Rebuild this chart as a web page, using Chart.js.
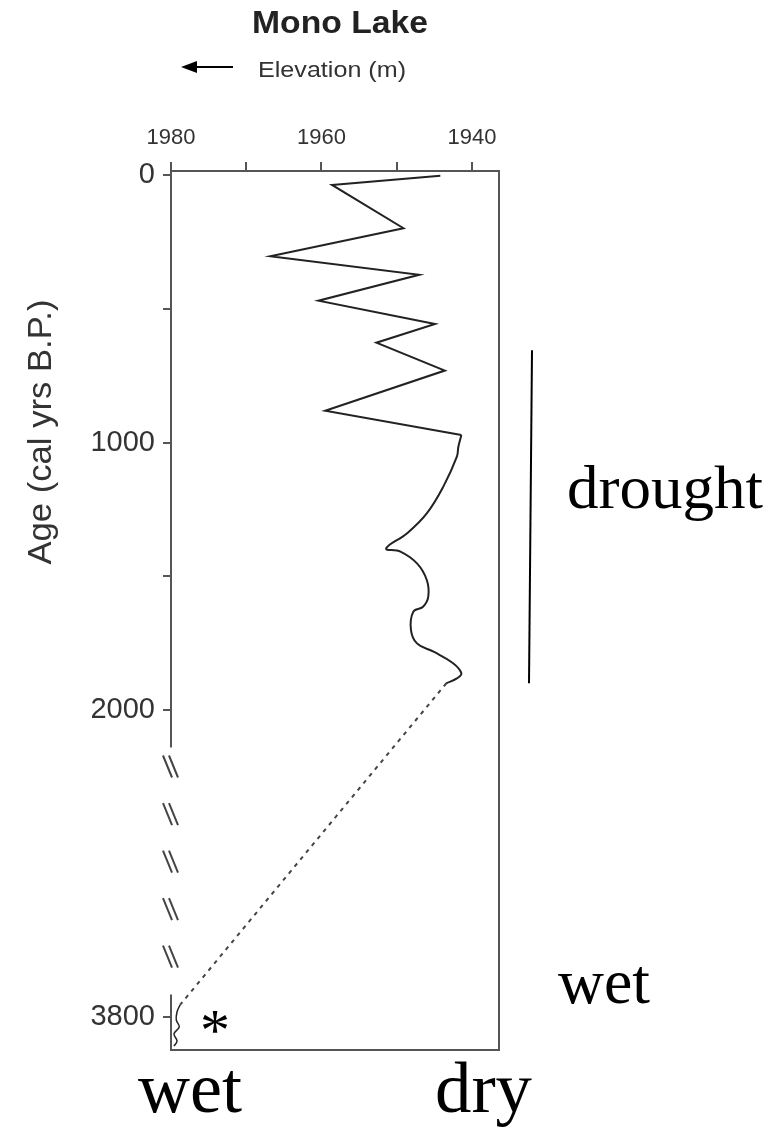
<!DOCTYPE html>
<html>
<head>
<meta charset="utf-8">
<script src="https://cdn.jsdelivr.net/npm/chart.js@4.4.0/dist/chart.umd.min.js"></script>
<style>
html, body { margin: 0; padding: 0; background: #fff; }
#wrap { position: relative; width: 782px; height: 1128px; }
</style>
</head>
<body>
<div id="wrap"><canvas id="chart" width="782" height="1128"></canvas></div>
<script>
// Mono Lake elevation (m) against age (cal yrs B.P.)
var zigzagAge  = [3, 37, 199, 304, 373, 470, 557, 627, 731, 881, 972];
var zigzagElev = [1944.2, 1958.6, 1949.1, 1966.8, 1947.0, 1960.4, 1944.9, 1952.7, 1943.6, 1959.5, 1941.4];

var smoothAge  = [972, 1016, 1053, 1165, 1265, 1339, 1396, 1408, 1452, 1514, 1576, 1614, 1633, 1701, 1751, 1782, 1825, 1863, 1882, 1900];
var smoothElev = [1941.4, 1941.8, 1942.0, 1943.8, 1946.0, 1948.6, 1951.4, 1949.5, 1947.3, 1946.0, 1945.8, 1946.5, 1947.8, 1948.1, 1947.3, 1945.1, 1942.5, 1941.4, 1942.0, 1943.4];

// dashed gap in the record
var gapAge  = [1900, 3731];
var gapElev = [1943.4, 1978.8];

// short record near 3800
var oldAge  = [3731, 3772, 3819, 3860, 3901, 3942, 3972];
var oldElev = [1978.8, 1979.2, 1979.3, 1978.9, 1979.6, 1979.2, 1979.6];

var elevTicks  = [1980, 1970, 1960, 1950, 1940];
var elevLabels = ['1980', '', '1960', '', '1940'];
var ageTicks   = [0, 500, 1000, 1500, 2000, 3800];
var ageLabels  = ['0', '', '1000', '', '2000', '3800'];

var droughtSpan = [655, 1900];
var axisBreak = [2220, 3670];

// the age axis is squeezed after 2000 yrs
var BREAK_AGE = 2000, SQUEEZE = 0.637;
function squeeze(age) {
	return age <= BREAK_AGE ? age : BREAK_AGE + (age - BREAK_AGE) * SQUEEZE;
}

function toPoints(ages, elevs) {
	var pts = [];
	for (var i = 0; i < ages.length; i++) {
		pts.push({ x: elevs[i], y: squeeze(ages[i]) });
	}
	return pts;
}

function fitText(ctx, text, x, y, width) {
	var w = ctx.measureText(text).width;
	ctx.save();
	ctx.translate(x, y);
	ctx.scale(width / w, 1);
	ctx.fillText(text, 0, 0);
	ctx.restore();
}

var decor = {
	id: 'decor',
	afterDraw: function (chart) {
		var ctx = chart.ctx;
		var a = chart.chartArea;
		var ys = chart.scales.y;
		var yPx = function (age) { return ys.getPixelForValue(squeeze(age)); };
		var b0 = yPx(axisBreak[0]), b1 = yPx(axisBreak[1]);

		ctx.save();
		// frame with the broken left axis
		ctx.strokeStyle = '#555';
		ctx.lineWidth = 2;
		ctx.beginPath();
		ctx.moveTo(a.left, b0);
		ctx.lineTo(a.left, a.top);
		ctx.lineTo(a.right, a.top);
		ctx.lineTo(a.right, a.bottom);
		ctx.lineTo(a.left, a.bottom);
		ctx.lineTo(a.left, b1);
		ctx.stroke();

		// break marks
		ctx.strokeStyle = '#444';
		ctx.lineWidth = 2;
		var m0 = b0 + 19, m1 = b1 - 38;
		for (var k = 0; k < 5; k++) {
			var cy = m0 + (m1 - m0) * k / 4;
			for (var s = 0; s < 2; s++) {
				var ox = a.left - 3 + s * 6;
				ctx.beginPath();
				ctx.moveTo(ox - 5, cy - 11);
				ctx.lineTo(ox + 4, cy + 11);
				ctx.stroke();
			}
		}

		// title and x label
		ctx.fillStyle = '#222';
		ctx.textAlign = 'left';
		ctx.textBaseline = 'alphabetic';
		ctx.font = 'bold 32px "Liberation Sans", Arial, sans-serif';
		fitText(ctx, 'Mono Lake', 252, 33, 176);
		ctx.fillStyle = '#333';
		ctx.font = '22px "Liberation Sans", Arial, sans-serif';
		fitText(ctx, 'Elevation (m)', 258, 77, 148);

		ctx.strokeStyle = '#000';
		ctx.fillStyle = '#000';
		ctx.lineWidth = 2;
		ctx.beginPath();
		ctx.moveTo(233, 67);
		ctx.lineTo(192, 67);
		ctx.stroke();
		ctx.beginPath();
		ctx.moveTo(181, 67);
		ctx.lineTo(197, 61);
		ctx.lineTo(197, 73);
		ctx.closePath();
		ctx.fill();

		// y title
		ctx.save();
		ctx.translate(51, 432);
		ctx.rotate(-Math.PI / 2);
		ctx.fillStyle = '#333';
		ctx.textAlign = 'center';
		ctx.font = '33px "Liberation Sans", Arial, sans-serif';
		var tw = ctx.measureText('Age (cal yrs B.P.)').width;
		ctx.scale(265 / tw, 1);
		ctx.fillText('Age (cal yrs B.P.)', 0, 0);
		ctx.restore();

		// drought bar
		ctx.strokeStyle = '#000';
		ctx.lineWidth = 2;
		ctx.beginPath();
		ctx.moveTo(532, yPx(droughtSpan[0]));
		ctx.lineTo(529, yPx(droughtSpan[1]));
		ctx.stroke();

		// annotations
		ctx.fillStyle = '#000';
		ctx.textAlign = 'left';
		ctx.font = '62px "Liberation Serif", "Times New Roman", serif';
		fitText(ctx, 'drought', 567, 508, 196);
		ctx.font = '64px "Liberation Serif", "Times New Roman", serif';
		fitText(ctx, 'wet', 558, 1003, 92);
		ctx.font = '72px "Liberation Serif", "Times New Roman", serif';
		fitText(ctx, 'wet', 138, 1112, 104);
		fitText(ctx, 'dry', 435, 1112, 97);
		ctx.font = '60px "Liberation Serif", "Times New Roman", serif';
		ctx.textAlign = 'center';
		ctx.fillText('*', 215, 1050);
		ctx.restore();
	}
};

var lineStyle = {
	showLine: true,
	pointRadius: 0,
	borderColor: '#222',
	borderWidth: 2,
	fill: false
};

new Chart(document.getElementById('chart'), {
	type: 'scatter',
	data: {
		datasets: [
			Object.assign({ data: toPoints(zigzagAge, zigzagElev), tension: 0 }, lineStyle),
			Object.assign({ data: toPoints(smoothAge, smoothElev), tension: 0.4 }, lineStyle),
			Object.assign({ data: toPoints(gapAge, gapElev), tension: 0, borderDash: [4, 5] }, lineStyle, { borderColor: '#444' }),
			Object.assign({ data: toPoints(oldAge, oldElev), tension: 0.4 }, lineStyle, { borderWidth: 1.5 })
		]
	},
	options: {
		responsive: false,
		animation: false,
		devicePixelRatio: 1,
		layout: { padding: { left: 0, top: 0, right: 283, bottom: 78 } },
		plugins: { legend: { display: false }, tooltip: { enabled: false } },
		scales: {
			x: {
				type: 'linear',
				position: 'top',
				reverse: true,
				min: 1936.4,
				max: 1980,
				afterBuildTicks: function (scale) {
					scale.ticks = elevTicks.map(function (v) { return { value: v }; });
				},
				afterFit: function (scale) { scale.height = 171; },
				grid: { drawOnChartArea: false, drawTicks: true, tickLength: 9, color: '#555', lineWidth: 2 },
				border: { display: false },
				ticks: {
					autoSkip: false,
					maxRotation: 0,
					padding: 11,
					color: '#333',
					font: { family: '"Liberation Sans", Arial, sans-serif', size: 22 },
					callback: function (v, i) { return elevLabels[i]; }
				}
			},
			y: {
				type: 'linear',
				reverse: true,
				min: -15,
				max: 3271,
				afterBuildTicks: function (scale) {
					scale.ticks = ageTicks.map(function (v) { return { value: squeeze(v) }; });
				},
				afterFit: function (scale) { scale.width = 171; },
				grid: { drawOnChartArea: false, drawTicks: true, tickLength: 8, color: '#555', lineWidth: 2 },
				border: { display: false },
				ticks: {
					autoSkip: false,
					padding: 8,
					color: '#333',
					font: { family: '"Liberation Sans", Arial, sans-serif', size: 29 },
					callback: function (v, i) { return ageLabels[i]; }
				}
			}
		}
	},
	plugins: [decor]
});
</script>
</body>
</html>
